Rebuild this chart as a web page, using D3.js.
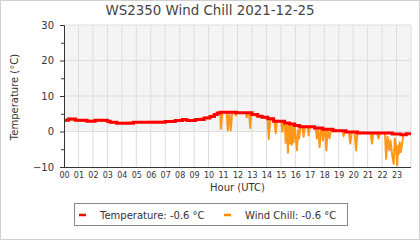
<!DOCTYPE html>
<html><head><meta charset="utf-8">
<script src="https://cdn.jsdelivr.net/npm/d3@7"></script>
<style>body{margin:0;background:#fff}svg{display:block;font-family:"DejaVu Sans",sans-serif}</style>
</head><body><svg width="420" height="240"></svg>
<script>
const title = "WS2350 Wind Chill 2021-12-25";
const yLabel = "Temperature (°C)";
const xLabel = "Hour (UTC)";
const hourTicks = ["00","01","02","03","04","05","06","07","08","09","10","11","12","13","14","15","16","17","18","19","20","21","22","23"];
const yTicks = [-10, 0, 10, 20, 30];
const yMinorTicks = [-5, 5, 15, 25];

// Temperature (step series): hour, value
const tempHours  = [0, 0.3, 0.8, 1.6, 2.15, 3.0, 3.2, 3.65, 4.8, 7.0, 7.7, 8.2, 8.5, 9.1, 9.7, 10.1, 10.4, 10.6, 10.8, 11.9, 13.0, 13.4, 13.7, 14.1, 14.5, 15.26, 15.6, 15.95, 16.3, 17.33, 17.9, 18.6, 19.5, 20.3, 22.7, 23.3, 23.67, 24];
const tempValues = [3.2, 3.5, 3.2, 2.9, 3.2, 2.9, 2.6, 2.3, 2.6, 2.8, 3.1, 3.4, 3.1, 3.4, 3.8, 4.2, 4.8, 5.2, 5.4, 5.3, 4.8, 4.3, 4.0, 3.6, 2.9, 2.4, 2.1, 1.7, 1.35, 1.0, 0.6, 0.2, -0.15, -0.4, -0.7, -0.9, -0.6, -0.6];

// Wind chill: hour, value
const windHours  = [0, 0.3, 0.4, 0.5, 0.8, 1.6, 2.15, 3.0, 3.2, 3.65, 4.8, 7.0, 7.7, 8.2, 8.5, 9.1, 9.7, 10.1, 10.4, 10.6, 10.8, 10.85, 10.95, 11.25, 11.33, 11.43, 11.53, 11.63, 11.8, 11.88, 11.96, 12.56, 12.64, 12.72, 12.8, 12.88, 12.96, 13.0, 14.08, 14.16, 14.26, 14.56, 14.64, 14.72, 15.02, 15.1, 15.18, 15.28, 15.33, 15.41, 15.49, 15.57, 15.65, 15.71, 15.77, 15.82, 15.88, 15.96, 16.11, 16.2, 16.26, 16.36, 16.5, 16.57, 16.65, 16.85, 16.92, 17.0, 17.4, 17.49, 17.58, 17.68, 17.78, 17.85, 17.91, 18.0, 18.07, 18.14, 18.24, 18.37, 18.46, 19.25, 19.34, 19.42, 19.7, 19.8, 19.9, 20.1, 20.2, 20.3, 21.2, 21.3, 21.4, 21.65, 21.75, 21.85, 22.2, 22.28, 22.38, 22.5, 22.58, 22.7, 22.8, 22.88, 22.96, 23.04, 23.12, 23.16, 23.22, 23.3, 23.39, 23.47, 24];
const windValues = [3.2, 3.2, 3.7, 3.2, 3.2, 2.9, 3.2, 2.9, 2.6, 2.3, 2.6, 2.8, 3.1, 3.4, 3.1, 3.4, 3.8, 4.2, 4.8, 5.2, 5.4, 0.8, 5.4, 5.4, 0.3, 5.0, 0.3, 5.3, 5.3, 4.5, 5.3, 5.3, 4.0, 5.3, 5.3, 1.0, 5.0, 4.8, 3.6, -2.1, 3.4, 3.0, -0.5, 3.0, 2.9, -0.1, 2.8, 2.4, -3.2, 2.2, -6.0, 2.2, -3.4, 1.5, -3.7, 1.8, -3.0, 1.8, -5.3, 0.5, -2.0, 1.4, 1.4, -1.5, 1.4, 1.4, -1.1, 1.4, 1.2, -2.0, 0.8, -4.4, 1.0, 1.0, -2.5, 0.6, 0.6, -5.3, 0.3, -2.0, 0.6, 0.2, -1.3, 0.2, -0.1, -3.4, -0.1, -0.1, -5.3, -0.3, -0.4, -3.4, -0.4, -0.4, -2.0, -0.4, -0.4, -7.7, -1.5, -5.3, -2.5, -6.7, -9.1, -2.0, -4.0, -9.5, -4.0, -6.3, -3.0, -5.8, -3.4, -0.9, -0.6];

const legendNames = ["Temperature", "Wind Chill"];
const legendValues = ["-0.6", "-0.6"];
const seriesColors = ["#ff0000", "#ff8c00"];

const svg = d3.select("svg");
const L = 64, R = 411, T = 25, B = 167;
const x = d3.scaleLinear([0, 24], [L, R]);
const y = d3.scaleLinear([-10, 30], [B, T]);

svg.append("rect").attr("x",0.5).attr("y",0.5).attr("width",419).attr("height",239)
  .attr("fill","#fff").attr("stroke","#d0d0d0");

// shaded band above freezing
svg.append("rect").attr("x", L).attr("y", y(30)).attr("width", R - L).attr("height", y(0) - y(30)).attr("fill", "#f4f4f4");

// grid
const g = svg.append("g").attr("stroke", "#dcdcdc").attr("stroke-width", 1);
d3.range(1, 25).forEach(h => g.append("line").attr("x1", x(h)).attr("x2", x(h)).attr("y1", y(30)).attr("y2", y(-10)));
[0, 10, 20, 30].forEach(v => g.append("line").attr("x1", L).attr("x2", R).attr("y1", y(v)).attr("y2", y(v)));

// wind chill
const windData = windHours.map((h, i) => [h, windValues[i]]);
svg.append("path").datum(windData).attr("fill", "none").attr("stroke", seriesColors[1]).attr("stroke-width", 2)
  .attr("stroke-linejoin", "round").attr("opacity", 0.9)
  .attr("d", d3.line().x(d => x(d[0])).y(d => y(d[1])));

// temperature
const tempData = tempHours.map((h, i) => [h, tempValues[i]]);
svg.append("path").datum(tempData).attr("fill", "none").attr("stroke", seriesColors[0]).attr("stroke-width", 3)
  .attr("d", d3.line().curve(d3.curveStepAfter).x(d => x(d[0])).y(d => y(d[1])));

// axes
const ya = svg.append("g").attr("transform", `translate(${L},0)`)
  .call(d3.axisLeft(y).tickValues(yTicks).tickSize(4).tickPadding(6));
ya.selectAll("text").attr("font-size", 10).attr("fill", "#333").attr("font-family", "DejaVu Sans");
ya.selectAll("line,path").attr("stroke", "#333");
const ym = svg.append("g").attr("transform", `translate(${L},0)`)
  .call(d3.axisLeft(y).tickValues(yMinorTicks).tickSize(3).tickFormat(""));
ym.select("path").remove();
ym.selectAll("line").attr("stroke", "#333");

const xa = svg.append("g").attr("transform", `translate(0,${B})`)
  .call(d3.axisBottom(x).tickValues(d3.range(0, 24)).tickFormat((d, i) => hourTicks[i]).tickSize(0).tickPadding(5.5));
xa.selectAll("text").attr("font-size", 8).attr("fill", "#333").attr("font-family", "DejaVu Sans");
xa.select("path").attr("stroke", "#333").attr("d", `M${L},0.5H${R}`);

// titles
svg.append("text").attr("x", 210).attr("y", 15).attr("text-anchor", "middle")
  .attr("font-size", 13.4).attr("fill", "#444").text(title);
svg.append("text").attr("transform", "translate(18,97) rotate(-90)").attr("text-anchor", "middle")
  .attr("font-size", 10).attr("fill", "#333").text(yLabel);
svg.append("text").attr("x", (L + R) / 2).attr("y", 191).attr("text-anchor", "middle")
  .attr("font-size", 10).attr("fill", "#333").text(xLabel);

// legend
svg.append("rect").attr("x", 74.5).attr("y", 203.5).attr("width", 273).attr("height", 22)
  .attr("fill", "#fff").attr("stroke", "#888");
const legX = [79, 224];
legendNames.forEach((n, i) => {
  svg.append("line").attr("x1", legX[i]).attr("x2", legX[i] + 7).attr("y1", 215).attr("y2", 215)
    .attr("stroke", seriesColors[i]).attr("stroke-width", 2.5);
  svg.append("text").attr("x", legX[i] + 21).attr("y", 218.5).attr("font-size", 10).attr("fill", "#333")
    .text(`${n}: ${legendValues[i]} °C`);
});
</script></body></html>
